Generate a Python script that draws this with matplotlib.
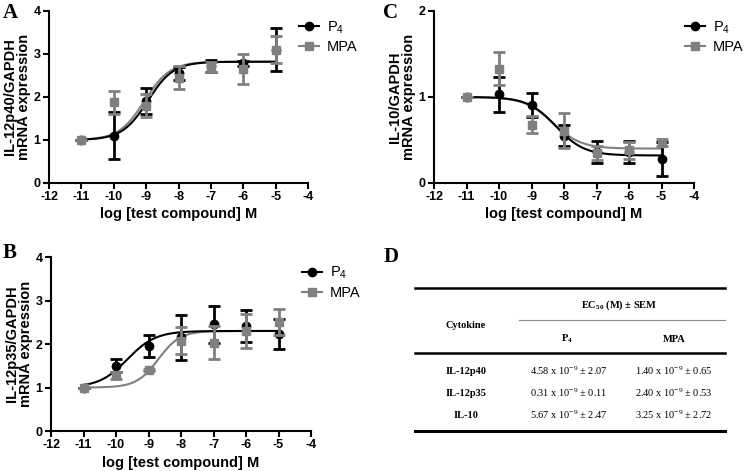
import numpy as np
import matplotlib
matplotlib.use("Agg")
import matplotlib.pyplot as plt
from matplotlib.lines import Line2D

plt.rcParams['font.family'] = ['Liberation Sans', 'DejaVu Sans']
plt.rcParams['axes.unicode_minus'] = False

# Data
doses = [-11, -10, -9, -8, -7, -6, -5]

# A: IL-12p40
a_p4 = [1.0, 1.1, 1.9, 2.55, 2.72, 2.78, 3.1]
a_p4_err = [0.0, 0.54, 0.3, 0.15, 0.15, 0.05, 0.5]
a_mpa = [1.0, 1.88, 1.8, 2.45, 2.7, 2.65, 3.1]
a_mpa_err = [0.0, 0.27, 0.27, 0.26, 0.11, 0.35, 0.32]
a_fit_p4 = (1.0, 2.82, -8.95, 1.1)   # bottom, top, logEC50, hill
a_fit_mpa = (1.0, 2.82, -9.05, 1.1)

# B: IL-12p35
b_p4 = [1.0, 1.5, 1.95, 2.15, 2.45, 2.42, 2.23]
b_p4_err = [0.0, 0.15, 0.25, 0.51, 0.42, 0.37, 0.34]
b_mpa = [1.0, 1.28, 1.4, 2.08, 2.03, 2.3, 2.5]
b_mpa_err = [0.0, 0.08, 0.03, 0.3, 0.38, 0.39, 0.3]
b_fit_p4 = (1.0, 2.3, -9.65, 1.0)
b_fit_mpa = (1.0, 2.3, -8.7, 1.3)

# C: IL-10
c_p4 = [1.0, 1.03, 0.91, 0.55, 0.36, 0.36, 0.28]
c_p4_err = [0.0, 0.2, 0.14, 0.12, 0.13, 0.13, 0.2]
c_mpa = [1.0, 1.33, 0.68, 0.61, 0.35, 0.38, 0.47]
c_mpa_err = [0.0, 0.19, 0.1, 0.2, 0.08, 0.1, 0.04]
c_fit_p4 = (1.0, 0.32, -8.25, 1.0)
c_fit_mpa = (1.0, 0.4, -8.35, 1.0)

# D: table
cytokines = ["IL-12p40", "IL-12p35", "IL-10"]
ec50_p4 = ["4.58", "0.31", "5.67"]
sem_p4 = ["2.07", "0.11", "2.47"]
ec50_mpa = ["1.40", "2.40", "3.25"]
sem_mpa = ["0.65", "0.53", "2.72"]

W, H = 745, 471
fig = plt.figure(figsize=(W / 100, H / 100), dpi=100)


def px(x, y):
    return x / W, 1 - y / H


def sigmoid(x, p):
    bottom, top, ec, hill = p
    return bottom + (top - bottom) / (1 + 10 ** ((ec - x) * hill))


def panel(rect, p4, p4e, mpa, mpae, fit_p4, fit_mpa, ymax, yticks, ylabel,
          letter, letter_xy, leg_top):
    ax = fig.add_axes(rect)
    xs = np.linspace(-11, -5, 300)
    ax.plot(xs, sigmoid(xs, fit_mpa), color='#808080', lw=1.5, zorder=2)
    ax.plot(xs, sigmoid(xs, fit_p4), color='black', lw=1.5, zorder=2)
    ax.errorbar(doses, p4, yerr=p4e, fmt='o', color='black', ms=6, capsize=4,
                elinewidth=2, capthick=2, zorder=3)
    ax.errorbar(doses, mpa, yerr=mpae, fmt='s', color='#808080', ms=6, capsize=4,
                elinewidth=2, capthick=2, zorder=4)
    ax.set_xlim(-12, -4)
    ax.set_ylim(0, ymax)
    ax.set_xticks(range(-12, -3))
    ax.set_yticks(yticks)
    for s in ['top', 'right']:
        ax.spines[s].set_visible(False)
    for s in ['left', 'bottom']:
        ax.spines[s].set_linewidth(1.5)
    ax.tick_params(width=1.5, length=4, pad=2)
    for lab in ax.get_xticklabels() + ax.get_yticklabels():
        lab.set_fontweight('bold')
        lab.set_fontsize(9)
    ax.set_xlabel("log [test compound] M", fontsize=10.5, fontweight='bold', labelpad=3)
    ax.set_ylabel(ylabel, fontsize=10.5, fontweight='bold', linespacing=1.0, labelpad=2)
    handles = [Line2D([], [], color='black', marker='o', ms=6, lw=1.5),
               Line2D([], [], color='#808080', marker='s', ms=6, lw=1.5)]
    ax.legend(handles, [r"P$\mathregular{_4}$", "MPA"], loc='upper left',
              bbox_to_anchor=(0.965, leg_top), frameon=False, fontsize=10.5,
              handlelength=1.4, handletextpad=0.5, labelspacing=0.3,
              borderpad=0, borderaxespad=0)
    fig.text(*px(*letter_xy), letter, fontsize=15, fontweight='bold',
             family='Liberation Serif', va='top')
    return ax


panel([0.0658, 0.6115, 0.3477, 0.3652], a_p4, a_p4_err, a_mpa, a_mpa_err,
      a_fit_p4, a_fit_mpa, 4, [0, 1, 2, 3, 4], "IL-12p40/GAPDH\nmRNA expression",
      "A", (3, 3), 0.95)
panel([0.5826, 0.6115, 0.349, 0.3652], c_p4, c_p4_err, c_mpa, c_mpa_err,
      c_fit_p4, c_fit_mpa, 2, [0, 1, 2], "IL-10/GAPDH\nmRNA expression",
      "C", (383, 3), 0.95)
panel([0.0685, 0.0849, 0.349, 0.3694], b_p4, b_p4_err, b_mpa, b_mpa_err,
      b_fit_p4, b_fit_mpa, 4, [0, 1, 2, 3, 4], "IL-12p35/GAPDH\nmRNA expression",
      "B", (3, 243), 0.955)

# Table D
serif = 'Liberation Serif'
fig.text(*px(384, 247), "D", fontsize=15, fontweight='bold', family=serif, va='top')
fig.add_artist(Line2D([px(415, 0)[0], px(725, 0)[0]], [px(0, 288)[1]] * 2, color='black', lw=1.8))
fig.add_artist(Line2D([px(519, 0)[0], px(725, 0)[0]], [px(0, 320)[1]] * 2, color='#888888', lw=0.8))
fig.add_artist(Line2D([px(415, 0)[0], px(725, 0)[0]], [px(0, 353)[1]] * 2, color='black', lw=1.8))
fig.add_artist(Line2D([px(415, 0)[0], px(725, 0)[0]], [px(0, 431)[1]] * 2, color='black', lw=2.2))

kw = dict(ha='center', va='center', family=serif, fontsize=7.5)
fig.text(*px(619, 305), r"EC$\mathregular{_{50}}$ (M) ± SEM", fontweight='bold', **kw)
fig.text(*px(466, 326), "Cytokine", fontweight='bold', **kw)
fig.text(*px(567, 339), r"P$\mathregular{_4}$", fontweight='bold', **kw)
fig.text(*px(674, 339), "MPA", fontweight='bold', **kw)
row_y = [371, 393, 415]
for i, yy in enumerate(row_y):
    fig.text(*px(466, yy), cytokines[i], fontweight='bold', **kw)
    fig.text(*px(569, yy), ec50_p4[i] + r" x 10$\mathregular{^{-9}}$ ± " + sem_p4[i], **kw)
    fig.text(*px(674, yy), ec50_mpa[i] + r" x 10$\mathregular{^{-9}}$ ± " + sem_mpa[i], **kw)

fig.savefig("out.png", dpi=100)
